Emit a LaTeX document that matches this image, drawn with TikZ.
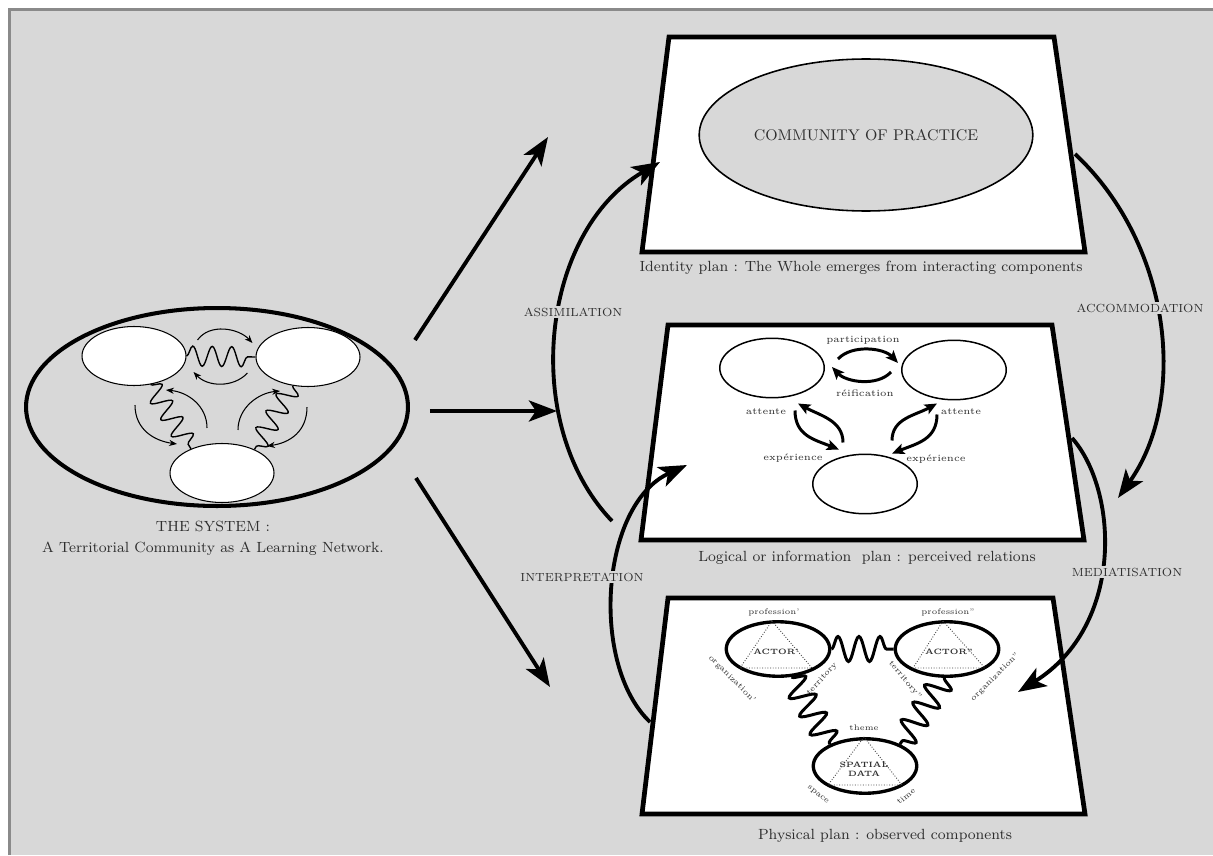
\documentclass[tikz,border=0pt]{standalone}
\usepackage{tikz}
\usetikzlibrary{shapes.geometric, arrows.meta, decorations.pathmorphing}

\definecolor{panelgrey}{HTML}{D8D8D8}
\definecolor{edgegrey}{HTML}{8A8A8A}
\definecolor{inkgrey}{HTML}{2E2E2E}

\tikzset{
  plane/.style={draw=black, fill=white, line width=2.7pt, line join=miter},
  sysbubble/.style={ellipse, draw, fill=white, line width=0.6pt, minimum width=2.08cm, minimum height=1.18cm, inner sep=0pt},
  logbubble/.style={ellipse, draw, fill=white, line width=0.85pt, minimum width=2.09cm, minimum height=1.19cm, inner sep=0pt},
  actbubble/.style={ellipse, draw, fill=white, line width=1.9pt, minimum width=2.07cm, minimum height=1.09cm, inner sep=0pt},
  actname/.style={font=\fontsize{4.4}{5}\selectfont\bfseries, text=inkgrey, align=center, inner sep=0.5pt},
  triangle/.style={densely dotted, line width=0.5pt, black!75},
  bigarrow/.style={line width=2.2pt, -{Stealth[length=16pt, width=12pt, inset=4pt]}},
  logarrow/.style={line width=1.7pt, -{Stealth[length=7pt, width=6pt, inset=1.5pt]}},
  sysarrow/.style={line width=0.6pt, -{Stealth[length=4.5pt, width=3.5pt]}},
  thinwiggle/.style={line width=0.8pt, decorate, decoration={snake, amplitude=0.2cm, segment length=0.39cm, pre length=0pt, post length=0pt}},
  thickwiggle/.style={line width=1.7pt, decorate, decoration={snake, amplitude=0.25cm, segment length=0.42cm, pre length=0pt, post length=0pt}},
  cyclelabel/.style={fill=panelgrey, inner sep=1pt, text=inkgrey, font=\fontsize{6.7}{7}\selectfont},
  caption/.style={text=inkgrey, font=\fontsize{8.4}{12}\selectfont, align=center},
  tinylabel/.style={text=inkgrey, font=\fontsize{5.4}{6}\selectfont, inner sep=0.5pt},
  microlabel/.style={text=inkgrey, font=\fontsize{4.6}{5}\selectfont, inner sep=0.5pt},
}

\begin{document}
\begin{tikzpicture}[x=0.02cm, y=-0.02cm]

% Frame
\useasboundingbox (0,0) rectangle (1213,855);
\fill[white] (0,0) rectangle (1213,855);
\fill[panelgrey] (8,8) rectangle (1213,855);
\draw[edgegrey, line width=1.7pt] (9.5,855) -- (9.5,9.5) -- (1213,9.5);

% The system
\node[ellipse, draw, line width=2.3pt, minimum width=7.64cm, minimum height=3.96cm] (sys) at (217,407) {};
\node[sysbubble] (sysA) at (134,356) {};
\node[sysbubble] (sysB) at (308,357) {};
\node[sysbubble] (sysC) at (222,473) {};

\draw[thinwiggle] (sysA.east) -- (sysB.west);
\draw[thinwiggle] (sysA.-60) -- (sysC.142);
\draw[thinwiggle] (sysB.-118) -- (sysC.36);

\draw[sysarrow] ([shift={(11,-16)}]sysA.east) .. controls +(12,-17) and +(-14,-15) .. ([shift={(-3,-14)}]sysB.west);
\draw[sysarrow] ([shift={(-8,16)}]sysB.west) .. controls +(-14,15) and +(14,15) .. ([shift={(7,16)}]sysA.east);
\draw[sysarrow] ([shift={(1,19)}]sysA.south) .. controls +(0,25) and +(-22,-3) .. ([shift={(-45,1)}]sysC.north);
\draw[sysarrow] ([shift={(-15,-15)}]sysC.north) .. controls +(0,-22) and +(22,2) .. ([shift={(32,4)}]sysA.south);
\draw[sysarrow] ([shift={(16,-13)}]sysC.north) .. controls +(0,-22) and +(-22,2) .. ([shift={(-28,4)}]sysB.south);
\draw[sysarrow] ([shift={(-1,20)}]sysB.south) .. controls +(0,25) and +(22,-3) .. ([shift={(45,3)}]sysC.north);

\node[caption] (sysTitle) at (213,538) {THE SYSTEM :\\A Territorial Community as A Learning Network.};

% Arrows leaving the system
\coordinate (toIdentity) at (548,137);
\coordinate (toLogic) at (557,411);
\coordinate (toPhysical) at (550,687);
\draw[bigarrow] ([shift={(5,-67)}]sys.east) -- (toIdentity);
\draw[bigarrow] ([shift={(20,4)}]sys.east) -- (toLogic);
\draw[bigarrow] ([shift={(6,71)}]sys.east) -- (toPhysical);

% Identity plan
\draw[plane] (642,252) -- (669,37) -- (1054,37) -- (1085,252) -- cycle;
\node[ellipse, draw, fill=panelgrey, line width=0.9pt, minimum width=6.36cm, minimum height=3.04cm,
  text=inkgrey, font=\fontsize{8.8}{10}\selectfont] (cop) at (866,135) {COMMUNITY OF PRACTICE};
\node[caption] (idCaption) at (861,268) {Identity plan : The Whole emerges from interacting components};

% Logical plan
\draw[plane] (641,540) -- (668,325) -- (1052,325) -- (1084,540) -- cycle;
\node[logbubble] (logA) at (772,368) {};
\node[logbubble] (logB) at (954,370) {};
\node[logbubble] (logC) at (865,484) {};

\draw[logarrow] ([shift={(13,-9)}]logA.east) .. controls +(14,-15) and +(-14,-15) .. ([shift={(-3,-7)}]logB.west);
\draw[logarrow] ([shift={(-10,2)}]logB.west) .. controls +(-14,15) and +(14,15) .. ([shift={(7,-1)}]logA.east);
\draw[logarrow] ([shift={(23,12)}]logA.south) .. controls +(0,25) and +(-25,-10) .. ([shift={(-26,-4)}]logC.north);
\draw[logarrow] ([shift={(-22,-11)}]logC.north) .. controls +(0,-22) and +(22,12) .. ([shift={(26,5)}]logA.south);
\draw[logarrow] ([shift={(27,-13)}]logC.north) .. controls +(0,-22) and +(-22,12) .. ([shift={(-17,3)}]logB.south);
\draw[logarrow] ([shift={(-17,14)}]logB.south) .. controls +(0,25) and +(25,-10) .. ([shift={(27,0)}]logC.north);

\node[tinylabel] (partLbl) at (863,340) {participation};
\node[tinylabel] (reifLbl) at (865,393) {réification};
\node[tinylabel] (attA) at (766,412) {attente};
\node[tinylabel] (attB) at (961,412) {attente};
\node[tinylabel] (expA) at (793,458) {expérience};
\node[tinylabel] (expB) at (936,459) {expérience};
\node[caption] (logCaption) at (867,558) {Logical or information~~plan : perceived relations};

% Physical plan
\draw[plane] (642,814) -- (668,598) -- (1053,598) -- (1085,814) -- cycle;
\node[actbubble] (actA) at (778,649) {};
\node[actbubble] (actB) at (947,649) {};
\node[actbubble] (spat) at (865,766) {};

\draw[triangle] ([shift={(-6,-28)}]actA.center) -- ([shift={(-38,19)}]actA.center) -- ([shift={(34,19)}]actA.center) -- cycle;
\draw[triangle] ([shift={(-4,-28)}]actB.center) -- ([shift={(-34,19)}]actB.center) -- ([shift={(38,19)}]actB.center) -- cycle;
\draw[triangle] ([shift={(-1,-29)}]spat.center) -- ([shift={(-37,19)}]spat.center) -- ([shift={(37,19)}]spat.center) -- cycle;

\node[actname] (actAName) at (776,652) {ACTOR'};
\node[actname] (actBName) at (949,652) {ACTOR''};
\node[actname] (spatName) at (864,769) {SPATIAL\\DATA};

\draw[thickwiggle] (actA.east) -- (actB.west);
\draw[thickwiggle] (actA.-64) -- (spat.148);
\draw[thickwiggle] (actB.-95) -- (spat.32);

\node[microlabel] (profA) at (774,612) {profession'};
\node[microlabel] (profB) at (948,612) {profession''};
\node[microlabel, rotate=-45] (orgA) at (732,679) {organization'};
\node[microlabel, rotate=48] (terA) at (822,679) {territory};
\node[microlabel, rotate=-50] (terB) at (905,680) {territory''};
\node[microlabel, rotate=45] (orgB) at (995,677) {organization''};
\node[microlabel] (themeLbl) at (864,728) {theme};
\node[microlabel, rotate=-40] (spaceLbl) at (818,795) {space};
\node[microlabel, rotate=40] (timeLbl) at (906,796) {time};
\node[caption] (phyCaption) at (885,836) {Physical plan : observed components};

% Cycle between the plans
\coordinate (assimFrom) at (612,521);
\coordinate (assimTo) at (660,162);
\coordinate (accomFrom) at (1075,154);
\coordinate (accomTo) at (1118,498);
\coordinate (interFrom) at (650,722);
\coordinate (interTo) at (687,465);
\coordinate (mediaFrom) at (1072,438);
\coordinate (mediaTo) at (1018,692);

\draw[bigarrow] (assimFrom) .. controls (520,425) and (540,232) .. (assimTo);
\draw[bigarrow] (accomFrom) .. controls (1172,245) and (1188,400) .. (accomTo);
\draw[bigarrow] (interFrom) .. controls (590,665) and (600,505) .. (interTo);
\draw[bigarrow] (mediaFrom) .. controls (1118,490) and (1125,625) .. (mediaTo);

\node[cyclelabel] (assimLbl) at (573,312) {ASSIMILATION};
\node[cyclelabel] (accomLbl) at (1140,308) {ACCOMMODATION};
\node[cyclelabel] (interLbl) at (582,577) {INTERPRETATION};
\node[cyclelabel] (mediaLbl) at (1127,572) {MEDIATISATION};

\end{tikzpicture}
\end{document}
